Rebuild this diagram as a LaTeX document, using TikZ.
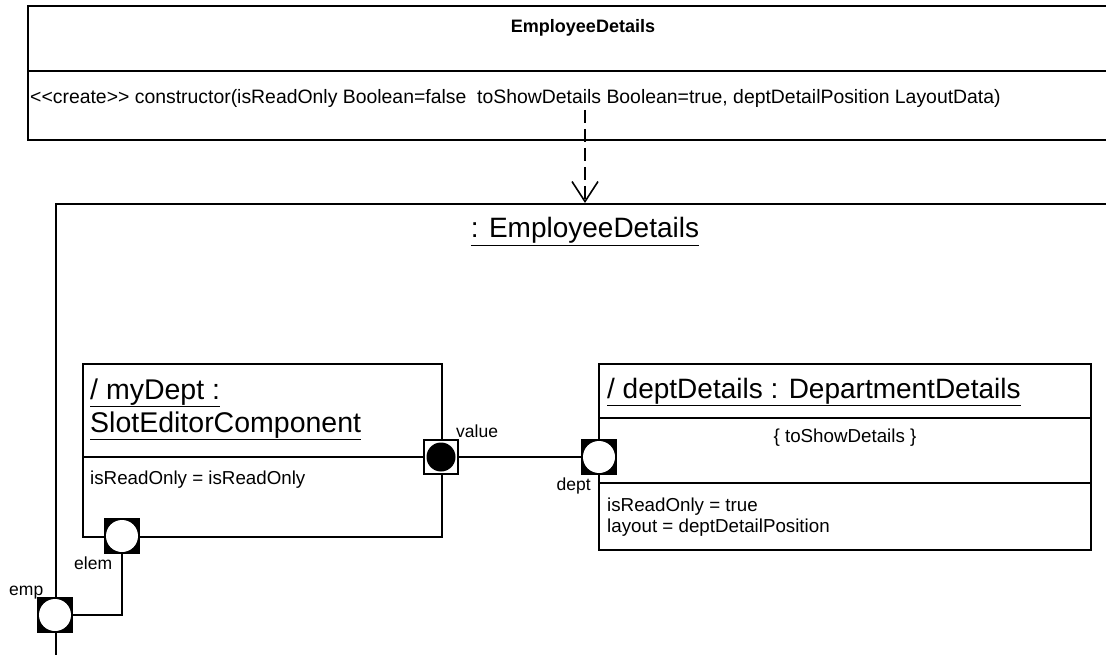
\documentclass[tikz,border=0pt]{standalone}
\usepackage{fontspec}
\setmainfont{Liberation Sans}
\usetikzlibrary{arrows.meta}
\newcommand\fsz[1]{\fontsize{#1}{#1}\selectfont}
\begin{document}
\begin{tikzpicture}[x=1pt,y=-1pt,
  box/.style={draw, line width=1.6pt, inner sep=0pt, anchor=north west},
  txt/.style={inner sep=0pt, anchor=base west},
  divider/.style={line width=1.6pt},
  portopen/.style={rectangle, draw, line width=1.2pt, fill=black, minimum size=34pt, inner sep=0pt,
    path picture={\fill[white] (path picture bounding box.center) circle (16pt);}},
  portfull/.style={rectangle, draw, line width=1.2pt, fill=white, minimum size=34pt, inner sep=0pt,
    path picture={\fill[black] (path picture bounding box.center) circle (14.5pt);}},
  wire/.style={line width=1.6pt},
]
\clip (0,0) rectangle (1106,655);
\fill[white] (0,0) rectangle (1106,655);

% class EmployeeDetails
\node[box, minimum width=1300pt, minimum height=134pt] (cls) at (27,5) {};
\draw[divider] (27,71) -- (1330,71);
\node[txt, anchor=base, font=\fsz{18}\bfseries] (clsname) at (583,33) {EmployeeDetails};
\node[txt, font=\fsz{19.4}] (ctor) at (30,104) {<{}<create>{}> constructor(isReadOnly Boolean=false\ \ toShowDetails Boolean=true, deptDetailPosition LayoutData)};

% instance
\node[box, minimum width=1300pt, minimum height=700pt] (inst) at (55,203) {};
\node[txt, anchor=base, font=\fsz{28}] (instname) at (585,238) {\underline{: EmployeeDetails}};

\coordinate (dep) at (585,110);
\draw[wire, dash pattern=on 13pt off 6pt, -{Straight Barb[length=20pt,width=26pt]}] (dep) -- (dep |- inst.north);

% myDept part
\node[box, minimum width=359pt, minimum height=173pt] (mydept) at (82,363) {};
\draw[divider] (82,457) -- (441,457);
\node[txt, font=\fsz{28.5}] (md1) at (90,399) {\underline{/ myDept :}};
\node[txt, font=\fsz{28.5}] (md2) at (90,432) {\underline{SlotEditorComponent}};
\node[txt, font=\fsz{18.75}] (md3) at (90,484) {isReadOnly = isReadOnly};

% deptDetails part
\node[box, minimum width=492pt, minimum height=186pt] (deptd) at (598,363) {};
\draw[divider] (598,418) -- (1090,418);
\draw[divider] (598,483) -- (1090,483);
\node[txt, font=\fsz{28}] (dd1) at (607,398) {\underline{/ deptDetails : DepartmentDetails}};
\node[txt, anchor=base, font=\fsz{18.75}] (dd2) at (845,442) {\{ toShowDetails \}};
\node[txt, font=\fsz{18.75}] (dd3) at (607,511) {isReadOnly = true};
\node[txt, font=\fsz{18.75}] (dd4) at (607,532) {layout = deptDetailPosition};

% ports
\node[portfull] (value) at (441,457) {};
\node[portopen] (elem) at (122,536) {};
\node[portopen] (emp) at (55,615) {};
\node[portopen] (dept) at (599,457) {};

\draw[wire] (value.east) -- (dept.west);
\draw[wire] (elem.south) |- (emp.east);

\node[txt, font=\fsz{17.5}] (lvalue) at (456,437) {value};
\node[txt, font=\fsz{17.5}] (lelem) at (74,569) {elem};
\node[txt, font=\fsz{17.5}] (lemp) at (9,595) {emp};
\node[txt, anchor=base east, font=\fsz{17.5}] (ldept) at (591,490) {dept};
\end{tikzpicture}
\end{document}
